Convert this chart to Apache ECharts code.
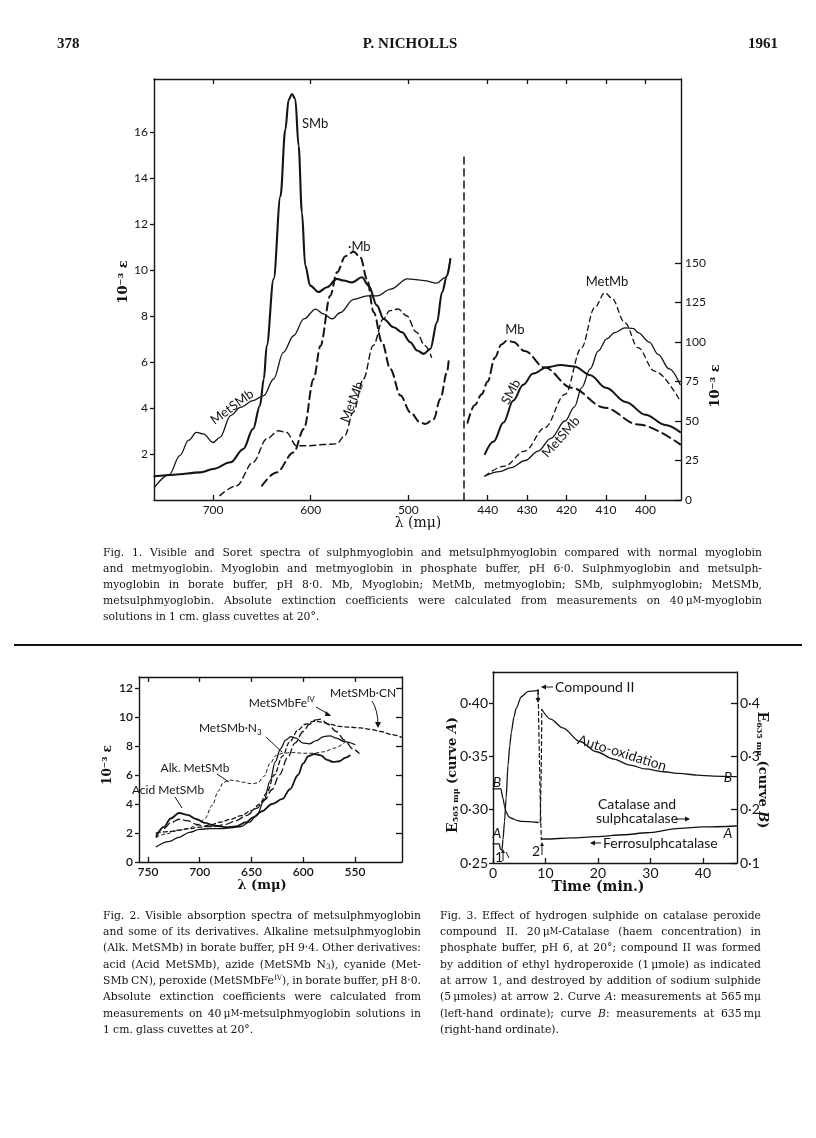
<!DOCTYPE html>
<html><head><meta charset="utf-8">
<script src="https://cdn.jsdelivr.net/npm/echarts@6/dist/echarts.min.js"></script>
<style>html,body{margin:0;padding:0;background:#fff}#c{width:816px;height:1138px}</style>
</head><body><div id="c"></div>
<script>
// ---------------- DATA ----------------
// Fig. 1 – visible region  [wavelength mμ, 10^-3 ε]
const fig1VisSMb = [[760,1.03],[740,1.1],[713,1.2],[700,1.35],[682,1.64],[669,2.22],[659,3.09],[652,4.1],[648,5.26],[645,6.71],[638,9.6],[631,13.2],[626,16.1],[622.6,17.4],[619.2,17.65],[615.8,17.43],[612.4,15.4],[609,12.5],[605.6,10.2],[600.5,9.32],[592,9.04],[583.4,9.25],[573.2,9.61],[566.3,9.54],[557.8,9.46],[547.5,9.68],[540.7,9.32],[532.2,8.46],[525.3,7.87],[515.1,7.51],[506.5,7.29],[498,6.86],[491.1,6.5],[484.3,6.35],[477.5,6.57],[470.6,7.73],[465.5,9.03],[460.4,9.75],[457,10.47]];
const fig1VisMetSMb = [[760,0.55],[745,1.1],[734,1.93],[725,2.6],[717,2.94],[710,2.87],[700,2.5],[693,2.72],[682,3.67],[672,4.03],[659,4.32],[648,4.54],[638,5.26],[628,6.42],[617.5,7.14],[607,7.87],[595,8.3],[587,8.09],[578,7.87],[570,8.14],[556,8.72],[542,8.87],[532,8.87],[518,9.17],[501,9.61],[484,9.54],[471,9.43],[462,9.68],[457,10.47]];
const fig1VisMb = [[650,0.62],[635,1.2],[617.5,2.07],[607,3.09],[597,5.26],[590,6.71],[580,8.88],[573,9.9],[564.5,10.6],[556,10.79],[549,10.54],[542.4,9.61],[535.5,8.16],[527,6.86],[518.5,5.7],[508,4.54],[498,3.81],[488,3.38],[482.6,3.3],[474,3.52],[467.3,4.39],[460.4,5.55],[458.7,6.06]];
const fig1VisMetMb = [[693,0.19],[676,0.62],[659,1.64],[645,2.66],[633,3.01],[625,2.94],[614.5,2.36],[601,2.36],[587,2.41],[573.5,2.44],[565,2.8],[556.5,3.81],[546,5.26],[536,6.71],[525.7,7.87],[519,8.23],[510.4,8.3],[501.8,8.01],[491.6,7.29],[483,6.71],[476.2,6.2]];
// Fig. 1 – Soret region  [wavelength mμ, 10^-3 ε]
const fig1SorSMb = [[440.7,29],[438.5,37],[436,49],[433.5,63],[431,73],[428.5,80],[425,84],[421.5,85.5],[418,84.5],[414,79],[410,71],[405,62],[400,54],[395,47.5],[391.2,43]];
const fig1SorMetSMb = [[440.7,15.2],[437,18],[434,20.5],[430.5,25],[427.2,31],[424,39],[420.4,50],[418,59],[416.2,71],[414,83],[412,94.3],[409.8,102],[407.8,106],[405.2,109],[403,108.5],[401.9,106],[399,100],[396.8,92.2],[394,83],[391.2,73]];
const fig1SorMb = [[445.1,48.9],[443.3,60],[441.5,67],[440,75],[438.2,90],[436.5,98.5],[435,101],[433.5,100],[430.6,94.3],[425.5,83.8],[418.8,71.1],[410.3,58.4],[401.9,47.8],[391.2,35.2]];
const fig1SorMetMb = [[440.7,15.2],[435.7,21.5],[430.6,31],[425.5,45.8],[420.4,66.9],[416.2,96.4],[412.9,121.7],[410.3,131.2],[408.6,128],[405.2,112.2],[401.9,96.4],[397.7,81.6],[391.2,62.6]];
const fig1Separator = [[446,0],[446,220]];
const fig1VisTicks = [700,600,500];
const fig1SorTicks = [440,430,420,410,400];
const fig1LeftTicks = [2,4,6,8,10,12,14,16];
const fig1RightTicks = [0,25,50,75,100,125,150];

// Fig. 2  [wavelength mμ, 10^-3 ε]
const fig2Acid = [[742,1.75],[735,2.4],[728,3.0],[720,3.38],[712,3.25],[703,2.95],[695,2.7],[685,2.5],[675,2.4],[665,2.45],[655,2.75],[648,3.1],[640,3.5],[630,4.0],[620,4.35],[613,5.0],[605,6.0],[600,6.8],[595,7.3],[589,7.45],[583,7.35],[577,7.05],[571,6.9],[565,6.95],[559,7.2],[555,7.35]];
const fig2N3 = [[742,1.05],[730,1.4],[720,1.7],[710,2.05],[700,2.25],[690,2.3],[680,2.3],[670,2.35],[660,2.45],[652,2.75],[645,3.2],[638,4.2],[632,5.6],[627,6.9],[622,7.8],[617,8.4],[612,8.65],[607,8.55],[600,8.2],[594,8.15],[588,8.35],[580,8.65],[574,8.7],[568,8.55],[560,8.3],[550,8.1]];
const fig2FeIV = [[742,1.85],[735,2.3],[728,2.7],[720,2.95],[712,2.85],[703,2.6],[695,2.45],[685,2.45],[675,2.6],[665,2.85],[655,3.2],[645,3.7],[637,4.3],[630,5.0],[623,6.0],[615,7.2],[608,8.2],[600,9.0],[594,9.5],[588,9.8],[583,9.85],[576,9.5],[568,9.0],[560,8.4],[552,7.8],[546,7.5]];
const fig2CN = [[742,2.0],[730,2.1],[720,2.2],[710,2.3],[700,2.4],[690,2.55],[680,2.75],[670,2.95],[660,3.2],[650,3.55],[642,4.0],[635,4.8],[628,6.0],[620,7.3],[613,8.3],[605,9.1],[598,9.5],[590,9.7],[582,9.65],[574,9.5],[565,9.35],[555,9.3],[545,9.25],[535,9.15],[525,9.0],[515,8.8],[505,8.6]];
const fig2Alk = [[742,1.7],[732,1.95],[722,2.15],[712,2.3],[702,2.55],[695,3.0],[688,3.9],[682,4.9],[677,5.5],[671,5.65],[665,5.6],[658,5.5],[650,5.4],[644,5.45],[638,5.9],[632,6.8],[626,7.35],[620,7.5],[610,7.55],[600,7.5],[590,7.5],[580,7.6],[570,7.85],[560,8.25]];
const fig2XTicks = [750,700,650,600,550];
const fig2YTicks = [0,2,4,6,8,10,12];

// Fig. 3  [time min, extinction]
const fig3A1 = [[0,0.268],[1.2,0.268],[1.4,0.263],[1.7,0.262],[1.9,0.272],[2.2,0.289],[2.5,0.311],[2.86,0.342],[3.2,0.36],[3.5,0.373],[4.0,0.387],[4.4,0.395],[5.4,0.406],[6.7,0.411],[8.6,0.412]];
const fig3AJump = [[8.6,0.412],[8.8,0.36],[9.0,0.31],[9.2,0.272]];
const fig3A2 = [[9.3,0.2725],[10,0.2725],[15,0.2735],[19.7,0.2747],[25,0.2765],[29.3,0.2784],[35.6,0.2825],[40,0.2838],[46.4,0.2847]];
const fig3B1 = [[0,0.239],[1.5,0.239],[1.9,0.221],[2.2,0.207],[2.5,0.196],[3.0,0.187],[3.5,0.184],[4.5,0.18],[5.4,0.178],[8.6,0.176]];
const fig3BJump = [[9.0,0.176],[9.2,0.28],[9.3,0.388]];
const fig3B2 = [[9.3,0.388],[11,0.37],[13.3,0.3534],[16.6,0.3276],[19.7,0.3088],[23,0.295],[26.1,0.2838],[29,0.2765],[32.5,0.2712],[35.5,0.268],[38.8,0.265],[42,0.2632],[46.4,0.262]];
const fig3XTicks = [0,10,20,30,40];
const fig3LeftTicks = [0.25,0.30,0.35,0.40];
const fig3RightTicks = [0.1,0.2,0.3,0.4];

// Captions
const headerLeft = '378', headerMid = 'P. NICHOLLS', headerRight = '1961';
const cap1 = [
 'Fig. 1.  Visible and Soret spectra of sulphmyoglobin and metsulphmyoglobin compared with normal myoglobin',
 'and metmyoglobin.  Myoglobin and metmyoglobin in phosphate buffer, pH 6·0.  Sulphmyoglobin and metsulph-',
 'myoglobin in borate buffer, pH 8·0.  Mb, Myoglobin; MetMb, metmyoglobin; SMb, sulphmyoglobin; MetSMb,',
 'metsulphmyoglobin.  Absolute extinction coefficients were calculated from measurements on 40\u2009μ%{M}-myoglobin',
 'solutions in 1 cm. glass cuvettes at 20°.'];
const cap2 = [
 'Fig. 2.  Visible absorption spectra of metsulphmyoglobin',
 'and some of its derivatives.  Alkaline metsulphmyoglobin',
 '(Alk. MetSMb) in borate buffer, pH 9·4.  Other derivatives:',
 'acid (Acid MetSMb), azide (MetSMb N_{3}), cyanide (Met-',
 'SMb CN), peroxide (MetSMbFe^{IV}), in borate buffer, pH 8·0.',
 'Absolute extinction coefficients were calculated from',
 'measurements on 40\u2009μ%{M}-metsulphmyoglobin solutions in',
 '1 cm. glass cuvettes at 20°.'];
const cap3 = [
 'Fig. 3.  Effect of hydrogen sulphide on catalase peroxide',
 'compound II.  20\u2009μ%{M}-Catalase (haem concentration) in',
 'phosphate buffer, pH 6, at 20°; compound II was formed',
 'by addition of ethyl hydroperoxide (1\u2009μmole) as indicated',
 'at arrow 1, and destroyed by addition of sodium sulphide',
 '(5\u2009μmoles) at arrow 2.  Curve *A*: measurements at 565\u2009mμ',
 '(left-hand ordinate); curve *B*: measurements at 635\u2009mμ',
 '(right-hand ordinate).'];

// ---------------- STYLE / HELPERS ----------------
const INK = '#141414';
const SANS = 'Lato, "Open Sans", sans-serif';
const SERIF = '"DejaVu Serif", serif';
const HSERIF = '"Liberation Serif", serif';

function T(text, x, y, o) {
  o = o || {};
  return {type:'text', x:x, y:y, rotation:o.rot||0, silent:true, z:100,
    style:{text:text, x:0, y:0, font:o.font||('13px '+SANS), fill:INK,
      align:o.align||'left', verticalAlign:o.va||'middle',
      textAlign:o.align||'left', textVerticalAlign:o.va||'middle', rich:o.rich}};
}
function L(x1,y1,x2,y2,w){return {type:'line',silent:true,z:100,shape:{x1,y1,x2,y2},style:{stroke:INK,lineWidth:w||1}};}
function P(pts){return {type:'polygon',silent:true,z:100,shape:{points:pts},style:{fill:INK}};}
function S(data, xi, yi, w, dash, smooth){
  return {type:'line', data:data, xAxisIndex:xi, yAxisIndex:yi, symbol:'none',
    smooth: smooth===undefined?0.35:smooth, smoothMonotone:'x', silent:true, animation:false,
    lineStyle:{color:INK, width:w, type:dash||'solid', cap:'round', join:'round'}};
}
function numDot(d){return v=>Number(v).toFixed(d).replace('.','·');}

// --------------- captions (justified) ---------------
const mctx = document.createElement('canvas').getContext('2d');
function parseWord(w){
  const segs=[]; const re=/\^\{([^}]*)\}|_\{([^}]*)\}|%\{([^}]*)\}|\*([^*]*)\*/g; let last=0,m;
  while((m=re.exec(w))){
    if(m.index>last) segs.push({t:w.slice(last,m.index),k:'n'});
    if(m[1]!==undefined) segs.push({t:m[1],k:'sup'});
    else if(m[2]!==undefined) segs.push({t:m[2],k:'sub'});
    else if(m[3]!==undefined) segs.push({t:m[3],k:'sc'});
    else segs.push({t:m[4],k:'it'});
    last=re.lastIndex;
  }
  if(last<w.length) segs.push({t:w.slice(last),k:'n'});
  return segs;
}
function segFont(k,s){
  if(k==='sup'||k==='sub') return (s*0.68).toFixed(1)+'px '+SERIF;
  if(k==='sc') return (s*0.78).toFixed(1)+'px '+SERIF;
  if(k==='it') return 'italic '+s+'px '+SERIF;
  return s+'px '+SERIF;
}
function measureWord(segs,s){let w=0;segs.forEach(g=>{mctx.font=segFont(g.k,s);g.w=mctx.measureText(g.t).width;w+=g.w;});return w;}
function fits(lines,width,s){
  for(let i=0;i<lines.length-1;i++){
    const words=lines[i].split(/ +/).map(parseWord);
    const tot=words.reduce((a,g)=>a+measureWord(g,s),0);
    if(tot+(words.length-1)*s*0.22>width) return false;
  }
  return true;
}
function paragraph(lines,x0,x1,y0,lh,s,els){
  lines.forEach((ln,i)=>{
    const words=ln.split(/ +/).map(parseWord);
    const ws=words.map(g=>measureWord(g,s));
    const tot=ws.reduce((a,b)=>a+b,0);
    const last=i===lines.length-1;
    const gap=last? s*0.3 : (x1-x0-tot)/Math.max(1,words.length-1);
    let x=x0; const y=y0+i*lh;
    words.forEach((segs,j)=>{
      let sx=x;
      segs.forEach(g=>{
        const dy=g.k==='sup'?-s*0.33:(g.k==='sub'?s*0.22:0);
        els.push(T(g.t,sx,y+dy,{font:segFont(g.k,s)}));
        sx+=g.w;
      });
      x+=ws[j]+gap;
    });
  });
}
let capSize=12.5;
while(capSize>8 && !(fits(cap1,659,capSize)&&fits(cap2,318,capSize)&&fits(cap3,320,capSize))) capSize-=0.1;

const G = [];
// header
G.push(T(headerLeft,57,44,{font:'bold 15px '+HSERIF}));
G.push(T(headerMid,410,44,{font:'bold 15px '+HSERIF,align:'center'}));
G.push(T(headerRight,778,44,{font:'bold 15px '+HSERIF,align:'right'}));
paragraph(cap1,103,762,553,16,capSize,G);
G.push(L(14,645,802,645,2));
paragraph(cap2,103,421,916,16.3,capSize,G);
paragraph(cap3,440,761,916,16.3,capSize,G);

// Fig 1 labels
G.push(T('10⁻³ ε',124,282,{font:'bold 13px '+SERIF,align:'center',rot:Math.PI/2}));
G.push(T('10⁻³ ε',716,386,{font:'bold 13px '+SERIF,align:'center',rot:Math.PI/2}));
G.push(T('λ (mμ)',418,523,{font:'14px '+SERIF,align:'center'}));
const F1 = '13px '+SANS;
G.push(T('SMb',302,124,{font:F1}));
G.push(T('·Mb',348,247,{font:F1}));
G.push(T('MetSMb',232,407,{font:F1,align:'center',rot:0.63}));
G.push(T('MetMb',352,402,{font:F1,align:'center',rot:1.2}));
G.push(T('Mb',515,330,{font:F1,align:'center'}));
G.push(T('MetMb',607,282,{font:F1,align:'center'}));
G.push(T('SMb',511,392,{font:F1,align:'center',rot:1.08}));
G.push(T('MetSMb',561,437,{font:F1,align:'center',rot:0.84}));

// Fig 2 labels
const F2 = '12px '+SANS;
G.push(T('10⁻³ ε',108,765,{font:'bold 12px '+SERIF,align:'center',rot:Math.PI/2}));
G.push(T('λ (mμ)',262,886,{font:'bold 13px '+SERIF,align:'center'}));
G.push(T('MetSMb·CN',363,693,{font:F2,align:'center'}));
G.push(T('MetSMbFe',307,703,{font:F2,align:'right'}));
G.push(T('IV',307,699,{font:'8px '+SANS}));
G.push(T('MetSMb·N',257,728,{font:F2,align:'right'}));
G.push(T('3',257,732,{font:'8px '+SANS}));
G.push(T('Alk. MetSMb',195,768,{font:F2,align:'center'}));
G.push(T('Acid MetSMb',168,790,{font:F2,align:'center'}));
G.push({type:'bezierCurve',silent:true,z:100,shape:{x1:372,y1:701,cpx1:378,cpy1:710,x2:378,y2:726},style:{stroke:INK,lineWidth:1,fill:null}});
G.push(P([[375,722],[381,722],[378,728]]));
G.push(L(316,707,330,715,1)); G.push(P([[326,711],[331,716],[325,716]]));
G.push(L(266,737,282,752,1));
G.push(L(217,774,229,782,1));
G.push(L(175,797,182,808,1));

// Fig 3 labels
const F3 = '14px '+SANS;
G.push(T('Compound II',555,687,{font:F3}));
G.push(L(542,687,553,687,1)); G.push(P([[541,687],[546,684.5],[546,689.5]]));
G.push(L(538,689,538,700,1)); G.push(P([[535.5,698],[540.5,698],[538,703]]));
G.push(T('Auto-oxidation',622,753,{font:F3,align:'center',rot:-0.30}));
G.push(T('B',497,782,{font:'italic 14px '+SANS,align:'center'}));
G.push(T('A',497,833,{font:'italic 14px '+SANS,align:'center'}));
G.push(T('B',728,777,{font:'italic 14px '+SANS,align:'center'}));
G.push(T('A',728,833,{font:'italic 14px '+SANS,align:'center'}));
G.push(T('Catalase and',637,804,{font:F3,align:'center'}));
G.push(T('sulphcatalase',637,818,{font:F3,align:'center'}));
G.push(L(675,819,689,819,1)); G.push(P([[690,819],[685,816.5],[685,821.5]]));
G.push(T('Ferrosulphcatalase',603,843,{font:F3}));
G.push(L(591,843,601,843,1)); G.push(P([[590,843],[595,840.5],[595,845.5]]));
G.push(T('1',499,857,{font:F3,align:'center'}));
G.push(L(503,861,503,852,1)); G.push(P([[501,853],[505,853],[503,849]]));
G.push(L(509,858,506,852,1));
G.push(T('2',536,851,{font:F3,align:'center'}));
G.push(L(542,855,542,845,1)); G.push(P([[540,846],[544,846],[542,842]]));
G.push(T('Time (min.)',598,887,{font:'bold 14px '+SERIF,align:'center'}));
G.push(T('{e|E}{s|565 mμ}{n| (curve }{i|A}{n|)}',453,775,{font:'bold 13px '+SERIF,align:'center',rot:Math.PI/2,
  rich:{e:{font:'bold 14px '+SERIF},s:{font:'bold 8px '+SERIF,verticalAlign:'bottom',padding:[4,0,0,0]},n:{font:'bold 13px '+SERIF},i:{font:'bold italic 13px '+SERIF}}}));
G.push(T('{e|E}{s|635 mμ}{n| (curve }{i|B}{n|)}',762,770,{font:'bold 13px '+SERIF,align:'center',rot:-Math.PI/2,
  rich:{e:{font:'bold 14px '+SERIF},s:{font:'bold 8px '+SERIF,verticalAlign:'bottom',padding:[4,0,0,0]},n:{font:'bold 13px '+SERIF},i:{font:'bold italic 13px '+SERIF}}}));

// ---------------- AXES ----------------
const AL = {show:true, onZero:false, lineStyle:{color:INK, width:1.4}};
function xAx(grid, min, max, inv, pos, ticks, labels, lblFont, inside){
  return {type:'value', gridIndex:grid, min, max, inverse:inv, position:pos,
    axisLine:AL, splitLine:{show:false},
    axisTick:{show:true, inside:inside!==false, length:5, customValues:ticks, lineStyle:{color:INK,width:1.3}},
    axisLabel:{show:!!labels, customValues:labels||undefined, margin:4, color:INK, font:lblFont, fontFamily:SANS, fontSize:lblFont?undefined:12}};
}
const xAxis = [
  xAx(0,443,760.5,true,'bottom',fig1VisTicks,fig1VisTicks),
  xAx(0,443,760.5,true,'top',fig1VisTicks,null),
  xAx(1,391,446,true,'bottom',fig1SorTicks,fig1SorTicks),
  xAx(1,391,446,true,'top',fig1SorTicks,null),
  xAx(2,504.5,758.7,true,'bottom',fig2XTicks,fig2XTicks),
  xAx(2,504.5,758.7,true,'top',fig2XTicks,null),
  xAx(3,0,46.5,false,'bottom',fig3XTicks,fig3XTicks),
  {type:'value',gridIndex:3,min:0,max:46.5,position:'top',axisLine:AL,axisTick:{show:false},axisLabel:{show:false},splitLine:{show:false}}
];
xAxis[4].axisLabel.fontWeight = 600;
xAxis[6].axisLabel.fontSize = 14;
xAxis[6].axisLabel.margin = 3;
function yAx(grid,min,max,pos,ticks,labels,inside,fmt,fs,fw,margin){
  return {type:'value', gridIndex:grid, min, max, position:pos,
    axisLine:AL, splitLine:{show:false},
    axisTick:{show:true, inside:inside, length:inside?6:4, customValues:ticks, lineStyle:{color:INK,width:1.3}},
    axisLabel:{show:!!labels, customValues:labels||undefined, margin:margin||6, color:INK, fontFamily:SANS, fontSize:fs||12, fontWeight:fw||'normal', formatter:fmt}};
}
const yAxis = [
  yAx(0,0,18.3,'left',fig1LeftTicks,fig1LeftTicks,false,null,12,'normal',6),
  yAx(1,0,266.5,'right',fig1RightTicks,fig1RightTicks,true,null,12,'normal',4),
  yAx(2,0,12.76,'left',fig2YTicks,fig2YTicks,false,null,12,600,6),
  yAx(2,0,12.76,'right',fig2YTicks.slice(1),null,true),
  yAx(3,0.25,0.4292,'left',fig3LeftTicks,fig3LeftTicks,false,numDot(2),14,'normal',5),
  yAx(3,0.1,0.4584,'right',fig3RightTicks,fig3RightTicks,true,numDot(1),14,'normal',3)
];

const grid = [
  {left:154, top:79, width:310, height:421, outerBoundsMode:'none'},
  {left:464, top:79, width:217, height:421, outerBoundsMode:'none'},
  {left:139, top:677, width:263, height:185, outerBoundsMode:'none'},
  {left:493, top:672, width:244, height:191, outerBoundsMode:'none'}
];

const series = [
  S(fig1VisSMb,0,0,2.1),
  S(fig1VisMetSMb,0,0,1.3),
  S(fig1VisMb,0,0,2.0,[8,5]),
  S(fig1VisMetMb,0,0,1.4,[6,4]),
  S(fig1SorSMb,2,1,2.0),
  S(fig1SorMetSMb,2,1,1.3),
  S(fig1SorMb,2,1,2.0,[9,5]),
  S(fig1SorMetMb,2,1,1.3,[5,4]),
  Object.assign(S(fig1Separator,2,1,1.5,[7,5],false),{clip:false}),
  S(fig2Acid,4,2,1.8),
  S(fig2N3,4,2,1.3),
  S(fig2FeIV,4,2,1.3,[7,4]),
  S(fig2CN,4,2,1.3,[4,3]),
  S(fig2Alk,4,2,1.0,[3,3]),
  S(fig3A1,6,4,1.3,'solid',0.25),
  S(fig3AJump,6,4,1.2,[4,3],false),
  S(fig3A2,6,4,1.3,'solid',0.3),
  S(fig3B1,6,5,1.3,'solid',0.25),
  S(fig3BJump,6,5,1.2,[4,3],false),
  S(fig3B2,6,5,1.3,'solid',0.3)
];

const chart = echarts.init(document.getElementById('c'), null, {renderer:'canvas', width:816, height:1138});
chart.setOption({backgroundColor:'#fff', animation:false, grid, xAxis, yAxis, series, graphic:{elements:G}});
</script></body></html>
